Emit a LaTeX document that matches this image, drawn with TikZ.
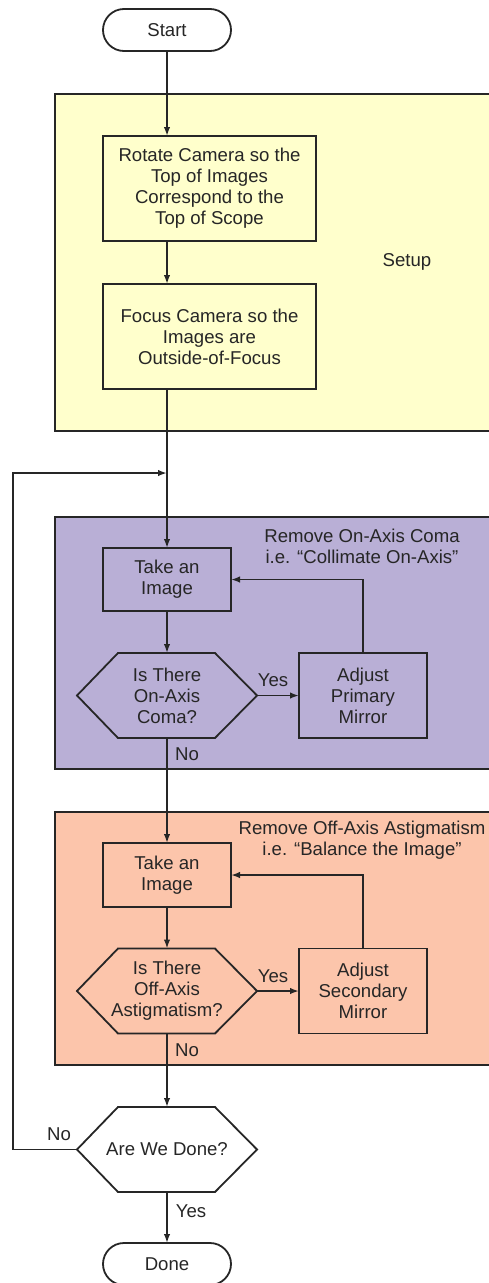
\documentclass[tikz,border=0pt]{standalone}
\usepackage{fontspec}
\setmainfont{Liberation Sans}
\usetikzlibrary{arrows.meta}
\definecolor{setupY}{HTML}{FFFFCC}
\definecolor{comaP}{HTML}{B9AFD6}
\definecolor{astO}{HTML}{FCC5AB}
\definecolor{ink}{HTML}{262626}
\tikzset{
  txt/.style={font=\fontsize{18.6}{21}\selectfont, text=ink},
  conn/.style={draw=ink, line width=1.8pt},
  flow/.style={conn, -{Latex[length=9pt,width=6.5pt]}},
  procbox/.style={txt, draw=ink, line width=1.8pt, rectangle, align=center, inner sep=0pt, outer sep=0pt, minimum width=128pt},
  termbox/.style={procbox, rounded corners=21pt, minimum height=42pt},
  decide/.style={txt, rectangle, align=center, inner sep=0pt, outer sep=0pt, minimum width=180pt, minimum height=85pt},
  hexline/.style={draw=ink, line width=1.8pt, line join=miter},
  groupbox/.style={draw=ink, line width=1.8pt},
  lbl/.style={txt, inner sep=0pt, align=center},
}
\begin{document}
\begin{tikzpicture}[x=1pt,y=-1pt]
\useasboundingbox (0,0) rectangle (489,1283);
% group backgrounds
\path[groupbox, fill=setupY] (55,94) rectangle (495,431);
\path[groupbox, fill=comaP] (55,517) rectangle (495,769);
\path[groupbox, fill=astO] (55,812) rectangle (495,1065);
% group labels
\node[lbl] (setuplbl) at (407,262) {Setup};
\node[lbl] (comalbl) at (362,546) {Remove On-Axis Coma\\i.e. “Collimate On-Axis”};
\node[lbl] (astlbl) at (362,840.5) {Remove Off-Axis Astigmatism\\i.e. “Balance the Image”};
% nodes
\node[termbox] (start) at (167,30) {Start};
\node[procbox, minimum width=213pt, minimum height=105pt] (rotate) at (209.5,188.5) {Rotate Camera so the\\Top of Images\\Correspond to the\\Top of Scope};
\node[procbox, minimum width=213pt, minimum height=105pt] (focus) at (209.5,336.5) {Focus Camera so the\\Images are\\Outside-of-Focus};
\coordinate (loopjoin) at (167,473);
\node[procbox, minimum height=63pt] (takeA) at (167,579.5) {Take an\\Image};
\node[decide] (hexA) at (167,695.5) {Is There\\On-Axis\\Coma?};
\node[procbox, minimum height=85pt] (adjA) at (363,695.5) {Adjust\\Primary\\Mirror};
\node[procbox, minimum height=64pt] (takeB) at (167,875) {Take an\\Image};
\node[decide] (hexB) at (167,991) {Is There\\Off-Axis\\Astigmatism?};
\node[procbox, minimum height=85pt] (adjB) at (363,991) {Adjust\\Secondary\\Mirror};
\node[decide] (hexC) at (167,1149.5) {Are We Done?};
\node[termbox] (done) at (167,1264) {Done};
\coordinate (loopcorner) at (13,1149.5);
% hexagon outlines
\foreach \n in {hexA,hexB,hexC}{
  \draw[hexline] ([xshift=41pt]\n.north west) -- ([xshift=-42pt]\n.north east) -- (\n.east)
    -- ([xshift=-42pt]\n.south east) -- ([xshift=41pt]\n.south west) -- (\n.west) -- cycle;
}
% connectors
\draw[flow] (start) -- (rotate.north -| start);
\draw[flow] (rotate.south -| start) -- (focus.north -| start);
\draw[flow] (focus.south -| start) -- (takeA);
\draw[flow] (takeA) -- (hexA);
\draw[flow] (hexA.east) -- (adjA);
\draw[flow] (adjA) |- (takeA);
\draw[flow] (hexA.south) -- (takeB);
\draw[flow] (takeB) -- (hexB);
\draw[flow] (hexB.east) -- (adjB);
\draw[flow] (adjB) |- (takeB);
\draw[flow] (hexB.south) -- (hexC);
\draw[flow] (hexC.south) -- (done);
\draw[flow] (hexC.west) -- (loopcorner) |- (loopjoin);
% branch labels
\node[lbl] (yesA) at (273,680) {Yes};
\node[lbl] (noA) at (187,754) {No};
\node[lbl] (yesB) at (273,976) {Yes};
\node[lbl] (noB) at (187,1050) {No};
\node[lbl] (noC) at (59,1134) {No};
\node[lbl] (yesC) at (191,1211) {Yes};
\end{tikzpicture}
\end{document}
